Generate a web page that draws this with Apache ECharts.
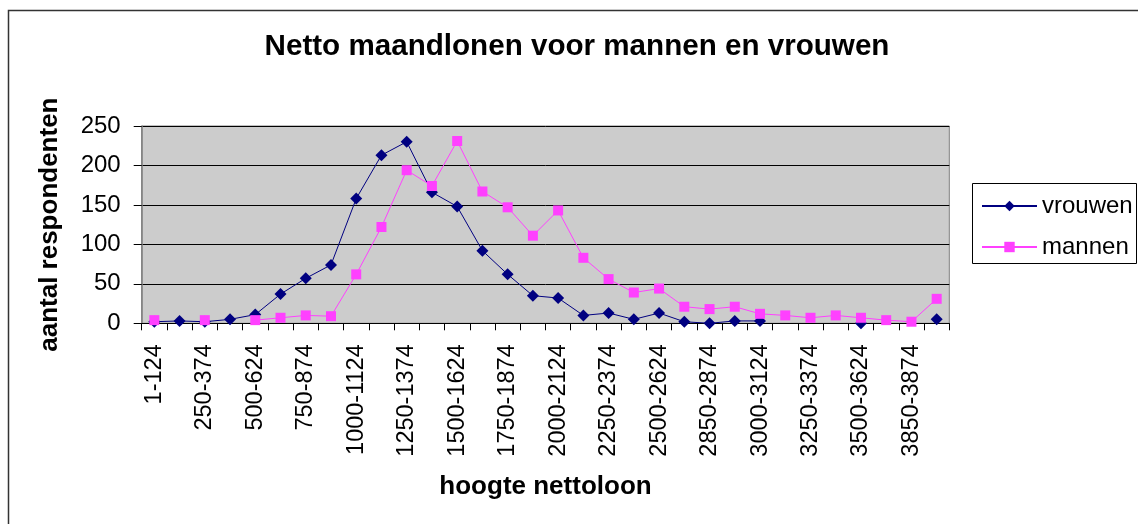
<!DOCTYPE html>
<html>
<head>
<meta charset="utf-8">
<script src="https://cdn.jsdelivr.net/npm/echarts@6/dist/echarts.min.js"></script>
<style>
html,body{margin:0;padding:0;background:#fff;}
#chart{width:1138px;height:524px;}
</style>
</head>
<body>
<div id="chart"></div>
<script>
var categories = ["1-124","125-249","250-374","375-499","500-624","625-749","750-874","875-999",
  "1000-1124","1125-1249","1250-1374","1375-1499","1500-1624","1625-1749","1750-1874","1875-1999",
  "2000-2124","2125-2249","2250-2374","2375-2499","2500-2624","2625-2749","2850-2874","2875-2999",
  "3000-3124","3125-3249","3250-3374","3375-3499","3500-3624","3625-3749","3850-3874","3875+"];
var vrouwen = [2, 3, 2, 5, 11, 37, 57, 74, 158, 213, 230, 166, 148, 92, 62, 35,
  32, 10, 13, 5, 13, 2, 0, 3, 3, null, null, null, 0, null, null, 5];
var mannen = [4, null, 4, null, 4, 7, 10, 9, 62, 122, 194, 174, 231, 167, 147, 111,
  143, 83, 56, 39, 44, 21, 18, 21, 12, 10, 7, 10, 7, 4, 2, 31];
var yTicks = {min: 0, max: 250, interval: 50};

var FONT = '"Liberation Sans", Arial, sans-serif';
var chart = echarts.init(document.getElementById('chart'), null, {renderer: 'canvas'});
chart.setOption({
  animation: false,
  backgroundColor: '#ffffff',
  textStyle: {fontFamily: FONT},
  title: {
    text: 'Netto maandlonen voor mannen en vrouwen',
    left: 577,
    textAlign: 'center',
    top: 32,
    padding: 0,
    textStyle: {fontFamily: FONT, fontSize: 29.6, fontWeight: 'bold', color: '#000'}
  },
  graphic: [
    {type: 'rect', silent: true, z: -1,
     shape: {x: 8.5, y: 10.5, width: 1140, height: 520},
     style: {fill: null, stroke: '#333', lineWidth: 1.5}},
    {type: 'rect', silent: true,
     shape: {x: 972.5, y: 183.5, width: 164, height: 80},
     style: {fill: '#fff', stroke: '#000', lineWidth: 1}, z: 0}
  ],
  legend: {
    orient: 'vertical',
    left: 981,
    top: 192,
    padding: 0,
    itemWidth: 55,
    itemHeight: 13,
    itemGap: 13,
    textStyle: {fontFamily: FONT, fontSize: 24, color: '#000', lineHeight: 28},
    data: ['vrouwen', 'mannen'],
    z: 5
  },
  grid: {
    left: 141.7, top: 126, right: 188.7, bottom: 200.7,
    show: true, backgroundColor: '#cccccc', borderColor: '#808080', borderWidth: 1
  },
  xAxis: {
    type: 'category',
    data: categories,
    boundaryGap: true,
    name: 'hoogte nettoloon',
    nameLocation: 'middle',
    nameGap: 151,
    nameTextStyle: {fontFamily: FONT, fontSize: 26, fontWeight: 'bold', color: '#000'},
    axisLine: {show: true, lineStyle: {color: '#000', width: 1}},
    axisTick: {show: true, interval: 0, length: 7, lineStyle: {color: '#000'}},
    axisLabel: {interval: 1, rotate: 90, margin: 21, fontFamily: FONT, fontSize: 23.5, color: '#000'},
    splitLine: {show: false}
  },
  yAxis: {
    type: 'value',
    min: yTicks.min, max: yTicks.max, interval: yTicks.interval,
    name: 'aantal respondenten',
    nameLocation: 'middle',
    nameRotate: 90,
    nameGap: 79,
    nameTextStyle: {fontFamily: FONT, fontSize: 26, fontWeight: 'bold', color: '#000'},
    axisLine: {show: true, lineStyle: {color: '#808080', width: 1.5}},
    axisTick: {show: true, length: 8, lineStyle: {color: '#000'}},
    axisLabel: {margin: 21, fontFamily: FONT, fontSize: 24, color: '#000'},
    splitLine: {show: true, lineStyle: {color: '#000', width: 1}}
  },
  series: [
    {
      name: 'vrouwen', type: 'line', data: vrouwen, connectNulls: false,
      symbol: 'diamond', symbolSize: [12, 12],
      itemStyle: {color: '#000080'},
      lineStyle: {color: '#000080', width: 1},
      z: 3
    },
    {
      name: 'mannen', type: 'line', data: mannen, connectNulls: false,
      symbol: 'rect', symbolSize: 10,
      itemStyle: {color: '#ff40ff'},
      lineStyle: {color: '#ff40ff', width: 1},
      z: 4
    }
  ]
});
</script>
</body>
</html>
